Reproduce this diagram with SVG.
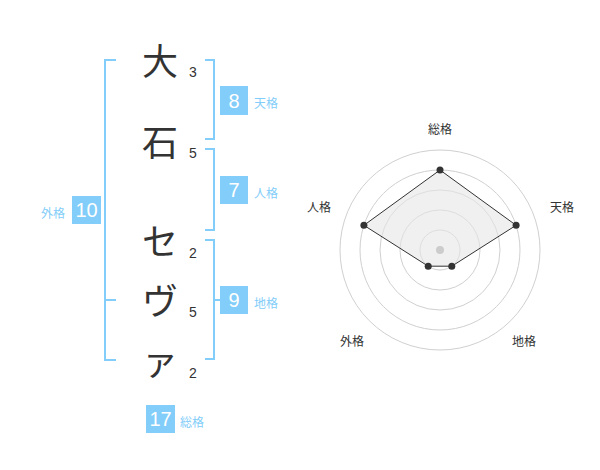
<svg xmlns="http://www.w3.org/2000/svg" width="600" height="470" viewBox="0 0 600 470">
<style>
.ch{font-family:"Noto Sans CJK JP","Noto Sans CJK SC",sans-serif;font-size:36px;fill:#333;text-anchor:middle}
.st{font-family:"Liberation Sans",Arial,sans-serif;font-size:14px;fill:#333;text-anchor:middle}
.br{fill:none;stroke:#82cdf9;stroke-width:2}
.bx{fill:#82cdf9}
.bn{font-family:"Liberation Sans",Arial,sans-serif;font-size:20px;fill:#fff;text-anchor:middle}
.lb{font-family:"Noto Sans CJK JP","Noto Sans CJK SC",sans-serif;font-size:12px;fill:#82cdf9}
.rl{font-family:"Noto Sans CJK JP","Noto Sans CJK SC",sans-serif;font-size:12px;fill:#333;text-anchor:middle}
.ring{fill:none;stroke:#d0d0d0;stroke-width:1}
</style>
<rect width="600" height="470" fill="#fff"/>
<g id="chars">
<text class="ch" x="160" y="75">大</text>
<text class="ch" x="160" y="156">石</text>
<text class="ch" x="160" y="255">セ</text>
<text class="ch" x="160" y="315">ヴ</text>
<text class="ch" x="160" y="375">ァ</text>
</g>
<g id="strokes">
<text class="st" x="193" y="77">3</text>
<text class="st" x="193" y="158">5</text>
<text class="st" x="193" y="258">2</text>
<text class="st" x="193" y="317">5</text>
<text class="st" x="193" y="378">2</text>
</g>
<g id="connectors">
<path class="br" d="M116,60 H105 V360 H116 M105,300 H116"/>
<path class="br" d="M205,60 H214 V139 H205"/>
<path class="br" d="M205,149 H214 V230 H205"/>
<path class="br" d="M205,240 H214 V359 H205 M214,300 H220"/>
</g>
<g id="tenkaku">
<rect class="bx" x="220" y="86" width="28" height="29"/>
<text class="bn" x="234" y="108">8</text>
<text class="lb" x="254" y="108">天格</text>
</g>
<g id="jinkaku">
<rect class="bx" x="220" y="176" width="28" height="28"/>
<text class="bn" x="234" y="197">7</text>
<text class="lb" x="254" y="198">人格</text>
</g>
<g id="chikaku">
<rect class="bx" x="220" y="286" width="28" height="28"/>
<text class="bn" x="234" y="307">9</text>
<text class="lb" x="254" y="308">地格</text>
</g>
<g id="gaikaku">
<rect class="bx" x="72" y="196" width="29" height="28"/>
<text class="bn" x="86.5" y="217">10</text>
<text class="lb" x="41" y="218">外格</text>
</g>
<g id="soukaku">
<rect class="bx" x="146" y="405" width="29" height="28"/>
<text class="bn" x="160.5" y="426">17</text>
<text class="lb" x="180" y="427">総格</text>
</g>
<g id="radar">
<circle class="ring" cx="440" cy="250" r="20"/>
<circle class="ring" cx="440" cy="250" r="40"/>
<circle class="ring" cx="440" cy="250" r="60"/>
<circle class="ring" cx="440" cy="250" r="80"/>
<circle class="ring" cx="440" cy="250" r="100"/>
<polygon points="440,170 516.1,225.3 451.8,266.2 428.2,266.2 363.9,225.3" fill="#e6e6e6" fill-opacity="0.6" stroke="#333" stroke-width="1"/>
<circle cx="440" cy="250" r="4" fill="#ccc"/>
<g fill="#333">
<circle cx="440" cy="170" r="3.5"/>
<circle cx="516.1" cy="225.3" r="3.5"/>
<circle cx="451.8" cy="266.2" r="3.5"/>
<circle cx="428.2" cy="266.2" r="3.5"/>
<circle cx="363.9" cy="225.3" r="3.5"/>
</g>
<text class="rl" x="440" y="134">総格</text>
<text class="rl" x="562" y="212">天格</text>
<text class="rl" x="319" y="212">人格</text>
<text class="rl" x="352" y="346">外格</text>
<text class="rl" x="524" y="346">地格</text>
</g>
</svg>
